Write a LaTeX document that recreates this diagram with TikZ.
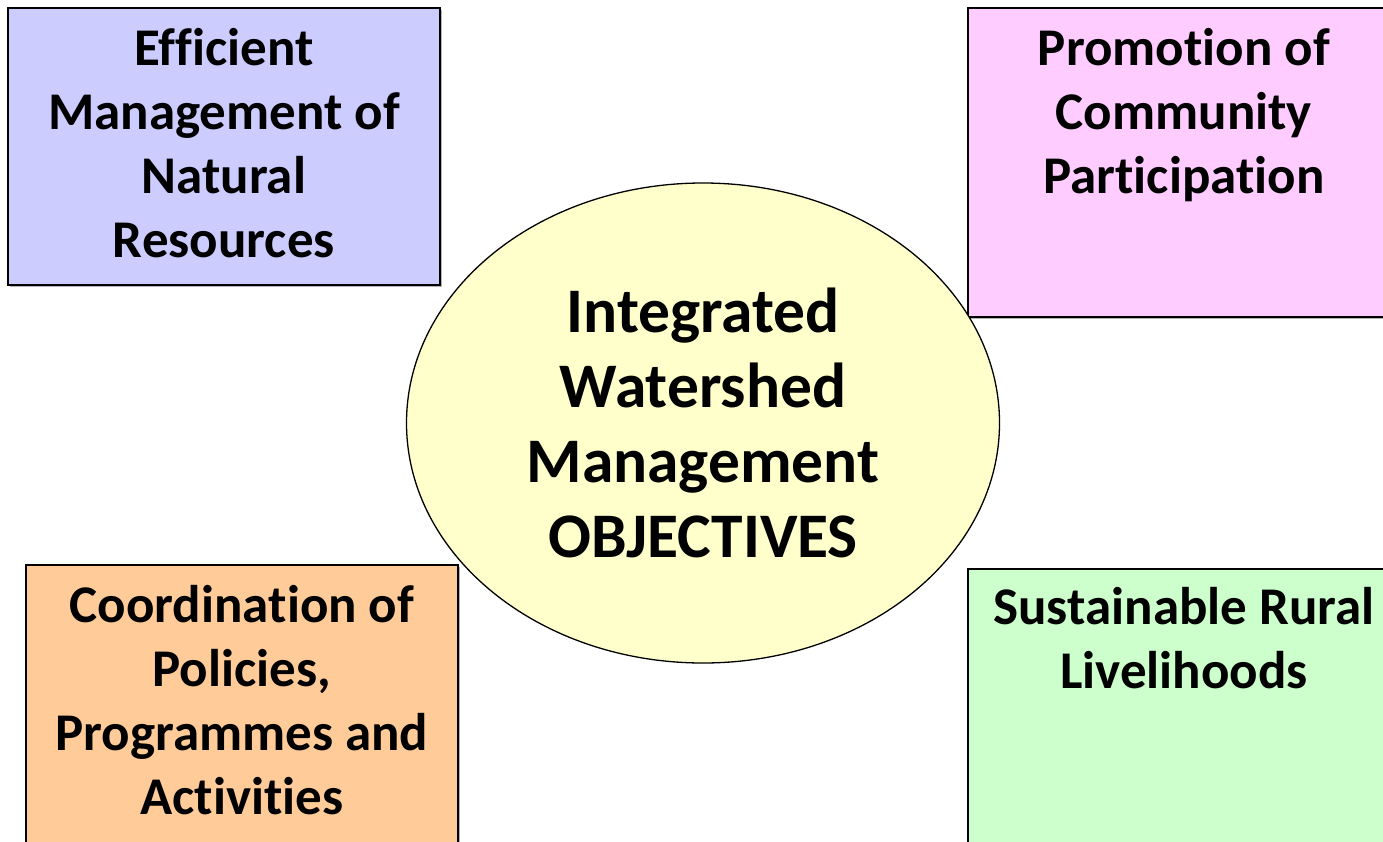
\documentclass[tikz,border=0pt]{standalone}
\usepackage{fontspec}
\setmainfont{Carlito}[Ligatures=NoCommon]
\usetikzlibrary{shapes.geometric,shadows}
\definecolor{boxblue}{HTML}{CCCCFF}
\definecolor{boxpink}{HTML}{FFCCFF}
\definecolor{boxorange}{HTML}{FFCC99}
\definecolor{boxgreen}{HTML}{CCFFCC}
\definecolor{ovalyellow}{HTML}{FFFFCC}
\begin{document}
\begin{tikzpicture}[x=1pt,y=-1pt,
		objbox/.style={draw=black, line width=1.8pt, anchor=north west, inner sep=0pt,
			minimum width=432pt, drop shadow={shadow xshift=2pt, shadow yshift=-2pt, opacity=.6, fill=black!50}},
		objtext/.style={anchor=base, align=center, font=\fontsize{53}{64}\selectfont\bfseries}]
	\clip (0,0) rectangle (1383,841);
	\useasboundingbox (0,0) rectangle (1383,841);
		\node[objbox, fill=boxblue, minimum height=277pt] (eff) at (7,7) {};
		\node[objbox, fill=boxpink, minimum height=309pt] (prom) at (967,7) {};
		\node[objbox, fill=boxorange, minimum height=300pt] (coord) at (25,564) {};
		\node[objbox, fill=boxgreen, minimum height=300pt] (sust) at (967,568) {};
		\node[name=efftxt, objtext] at ([yshift=-250pt]eff.north) {Efficient\\Management of\\Natural\\Resources};
		\node[name=promtxt, objtext] at ([yshift=-186pt]prom.north) {Promotion of\\Community\\Participation};
		\node[name=coordtxt, objtext] at ([yshift=-250pt]coord.north) {Coordination of\\Policies,\\Programmes and\\Activities};
		\node[name=susttxt, objtext] at ([yshift=-120pt]sust.north) {Sustainable Rural\\Livelihoods};
		\node[name=iwm, ellipse, draw=black, line width=1.3pt, fill=ovalyellow, inner sep=0pt,
			minimum width=593pt, minimum height=480pt] at (703,423) {};
		\node[name=iwmtxt, anchor=base, align=center, font=\fontsize{63.5}{75}\selectfont\bfseries]
			at (703,557) {Integrated\\Watershed\\Management\\OBJECTIVES};
	\end{tikzpicture}
\end{document}
